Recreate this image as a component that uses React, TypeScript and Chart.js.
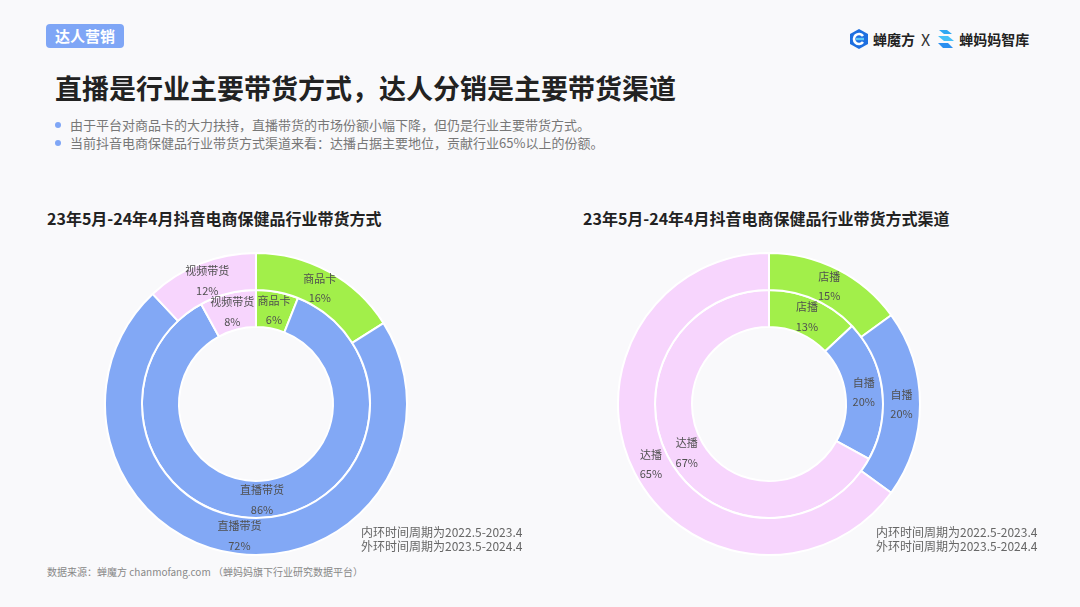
import React, { useEffect, useRef } from "react";
import { Chart, registerables } from "chart.js";

Chart.register(...registerables);

const FONT = '"Noto Sans CJK SC", "Noto Sans", sans-serif';

// Left chart: 带货方式
const methodCategories = ["商品卡", "直播带货", "视频带货"];
const methodOuter = [16, 72, 12]; // 2023.5-2024.4
const methodInner = [6, 86, 8]; // 2022.5-2023.4

// Right chart: 带货方式渠道
const channelCategories = ["店播", "自播", "达播"];
const channelOuter = [15, 20, 65];
const channelInner = [13, 20, 67];

const segmentColors = ["#a2ef4a", "#82a8f5", "#f7d5fd"];

const labelPlugin = {
  id: "ringLabels",
  afterDatasetsDraw(chart: any) {
    const ctx = chart.ctx;
    const labels: string[] = chart.data.labels;
    chart.data.datasets.forEach((ds: any, di: number) => {
      const meta = chart.getDatasetMeta(di);
      meta.data.forEach((arc: any, i: number) => {
        const p = arc.getProps(["x", "y", "startAngle", "endAngle", "innerRadius", "outerRadius"], true);
        const mid = (p.startAngle + p.endAngle) / 2;
        const r = (p.innerRadius + p.outerRadius) / 2;
        const x = p.x + Math.cos(mid) * r;
        const y = p.y + Math.sin(mid) * r;
        ctx.save();
        ctx.fillStyle = "#505050";
        ctx.font = `11px ${FONT}`;
        ctx.textAlign = "center";
        ctx.textBaseline = "middle";
        ctx.fillText(labels[i], x, y - 9.5);
        ctx.fillText(ds.data[i] + "%", x, y + 10);
        ctx.restore();
      });
    });
  },
};

function Ring({ labels, outer, inner }: { labels: string[]; outer: number[]; inner: number[] }) {
  const ref = useRef<HTMLCanvasElement>(null);
  useEffect(() => {
    if (!ref.current) return;
    const chart = new Chart(ref.current, {
      type: "doughnut",
      data: {
        labels,
        datasets: [
          { data: outer, backgroundColor: segmentColors, borderColor: "#ffffff", borderWidth: 2 },
          { data: inner, backgroundColor: segmentColors, borderColor: "#ffffff", borderWidth: 2 },
        ],
      },
      options: {
        animation: false,
        responsive: true,
        maintainAspectRatio: false,
        cutout: "51%",
        layout: { padding: 1 },
        plugins: { legend: { display: false }, tooltip: { enabled: false } },
      },
      plugins: [labelPlugin],
    });
    return () => chart.destroy();
  }, []);
  return <canvas ref={ref} />;
}

const watermarks: { x: number; y: number; t: string }[] = [];
for (let row = 0; row < 6; row++) {
  for (let col = 0; col < 5; col++) {
    watermarks.push({ x: -40 + col * 250 + (row % 2) * 125, y: 20 + row * 110, t: "蝉魔方 × 蝉妈妈智库" });
  }
}

export default function App() {
  useEffect(() => {
    document.body.style.margin = "0";
  }, []);
  const text = (style: React.CSSProperties, content: React.ReactNode) => (
    <div style={{ position: "absolute", whiteSpace: "nowrap", fontFamily: FONT, ...style }}>{content}</div>
  );
  return (
    <div
      style={{
        position: "fixed",
        left: 0,
        top: 0,
        width: 1080,
        height: 607,
        background: "#f9f9fb",
        overflow: "hidden",
        fontFamily: FONT,
      }}
    >
      {watermarks.map((w, i) => (
        <div
          key={i}
          style={{
            position: "absolute",
            left: w.x,
            top: w.y,
            transform: "rotate(-22deg)",
            color: "rgba(0,0,0,0.025)",
            fontSize: 20,
            fontWeight: 700,
            whiteSpace: "nowrap",
            fontFamily: FONT,
          }}
        >
          {w.t}
        </div>
      ))}

      {/* tag */}
      <div
        style={{
          position: "absolute",
          left: 46,
          top: 24,
          width: 78,
          height: 24,
          background: "#7fa6f6",
          borderRadius: 4,
          color: "#fff",
          fontSize: 15,
          fontWeight: 700,
          lineHeight: "24px",
          textAlign: "center",
          fontFamily: FONT,
        }}
      >
        达人营销
      </div>

      {/* logos */}
      <div style={{ position: "absolute", left: 848, top: 27, display: "flex", alignItems: "center", fontFamily: FONT }}>
        <svg width="22" height="22" viewBox="0 0 22 22">
          <path d="M11 1 L20 6 L20 16 L11 21 L2 16 L2 6 Z" fill="#1e6fe0" />
          <path d="M15 8 A5 5 0 1 0 15 14" stroke="#fff" strokeWidth="2.6" fill="none" />
          <path d="M8 11 L16 11" stroke="#5ec8f7" strokeWidth="2.4" />
        </svg>
        <span style={{ fontSize: 14, fontWeight: 700, color: "#222", marginLeft: 3 }}>蝉魔方</span>
        <span style={{ fontSize: 16, color: "#333", margin: "0 6px" }}>X</span>
        <svg width="20" height="22" viewBox="0 0 20 22">
          <path d="M3 2 L11 2 L16 6 L8 6 Z" fill="#2ea7f2" />
          <path d="M2 8 L12 8 L18 13 L8 13 Z" fill="#45bff7" />
          <path d="M2 15 L12 15 L17 20 L7 20 Z" fill="#2a8ff0" />
        </svg>
        <span style={{ fontSize: 14, fontWeight: 700, color: "#222", marginLeft: 3 }}>蝉妈妈智库</span>
      </div>

      {text(
        { left: 55, top: 68, fontSize: 27, fontWeight: 700, color: "#222" },
        "直播是行业主要带货方式，达人分销是主要带货渠道"
      )}

      <div style={{ position: "absolute", left: 55, top: 122, width: 6, height: 6, borderRadius: 3, background: "#7fa6f6" }} />
      <div style={{ position: "absolute", left: 55, top: 140, width: 6, height: 6, borderRadius: 3, background: "#7fa6f6" }} />
      {text(
        { left: 70, top: 116, fontSize: 13, color: "#777", lineHeight: "18px" },
        "由于平台对商品卡的大力扶持，直播带货的市场份额小幅下降，但仍是行业主要带货方式。"
      )}
      {text(
        { left: 70, top: 134, fontSize: 13, color: "#777", lineHeight: "18px" },
        "当前抖音电商保健品行业带货方式渠道来看：达播占据主要地位，贡献行业65%以上的份额。"
      )}

      {text(
        { left: 47, top: 207, fontSize: 16, fontWeight: 700, color: "#222", lineHeight: "22px" },
        "23年5月-24年4月抖音电商保健品行业带货方式"
      )}
      {text(
        { left: 583, top: 207, fontSize: 16, fontWeight: 700, color: "#222", lineHeight: "22px" },
        "23年5月-24年4月抖音电商保健品行业带货方式渠道"
      )}

      <div style={{ position: "absolute", left: 103, top: 251, width: 306, height: 306 }}>
        <Ring labels={methodCategories} outer={methodOuter} inner={methodInner} />
      </div>
      <div style={{ position: "absolute", left: 616, top: 251, width: 306, height: 306 }}>
        <Ring labels={channelCategories} outer={channelOuter} inner={channelInner} />
      </div>

      {text({ left: 361, top: 525, fontSize: 12, color: "#666", lineHeight: "14px" }, "内环时间周期为2022.5-2023.4")}
      {text({ left: 361, top: 539, fontSize: 12, color: "#666", lineHeight: "14px" }, "外环时间周期为2023.5-2024.4")}
      {text({ left: 876, top: 525, fontSize: 12, color: "#666", lineHeight: "14px" }, "内环时间周期为2022.5-2023.4")}
      {text({ left: 876, top: 539, fontSize: 12, color: "#666", lineHeight: "14px" }, "外环时间周期为2023.5-2024.4")}

      {text(
        { left: 47, top: 565, fontSize: 10, color: "#888", lineHeight: "14px" },
        "数据来源：蝉魔方 chanmofang.com （蝉妈妈旗下行业研究数据平台）"
      )}
    </div>
  );
}
